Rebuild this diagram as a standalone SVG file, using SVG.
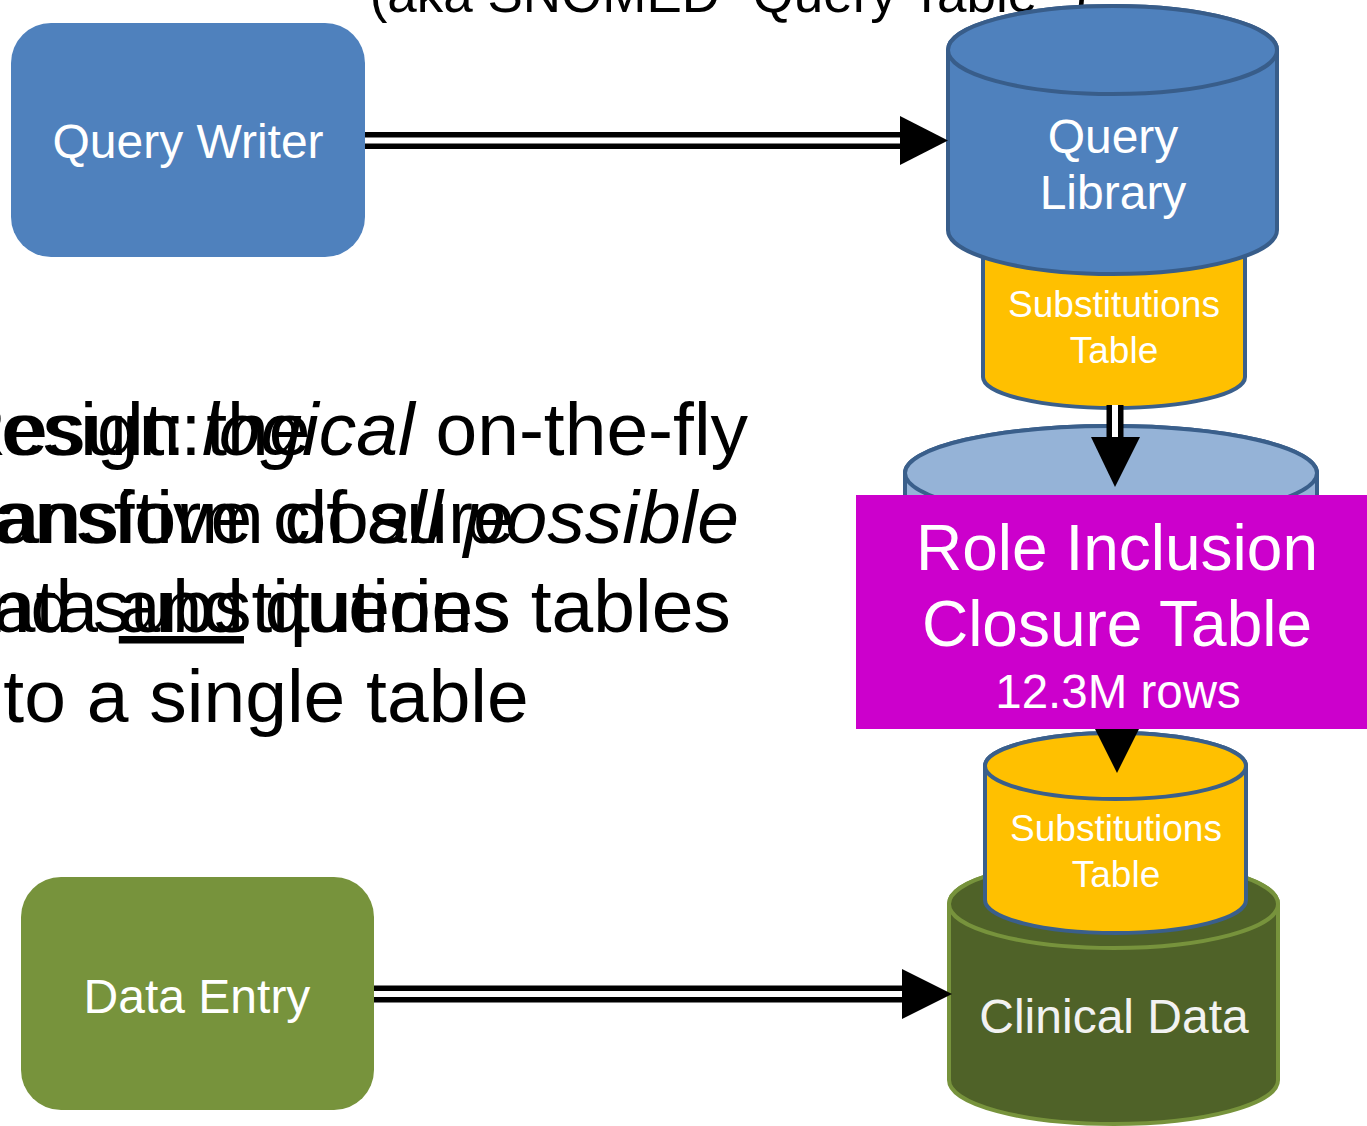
<svg xmlns="http://www.w3.org/2000/svg" width="1367" height="1126" viewBox="0 0 1367 1126">
  <style>
    .lbl { font-family: "Liberation Sans", Arial, sans-serif; fill: #ffffff; text-anchor: middle; }
    .body { font-family: "Liberation Sans", Arial, sans-serif; font-size: 75px; fill: #000000; }
    .it { font-style: italic; }
    .shaft { stroke: #000000; stroke-width: 17; fill: none; }
    .gap { stroke: #ffffff; stroke-width: 6; fill: none; }
    .head { fill: #000000; }
    .cylBlue { fill: #4F81BD; stroke: #385D8A; stroke-width: 4; }
    .cylLight { fill: #95B3D7; stroke: #3A5F8B; stroke-width: 4; }
    .cylYellow { fill: #FFC000; stroke: #3A5F8B; stroke-width: 4; }
    .cylGreen { fill: #4F6228; stroke: #77933C; stroke-width: 4; }
  </style>

  <rect width="1367" height="1126" fill="#ffffff"/>

  <!-- caption, mostly above the top edge -->
  <text x="728.5" y="12" font-family="Liberation Sans, Arial, sans-serif" font-size="53" text-anchor="middle" fill="#000000">(aka SNOMED “Query Table”.)</text>

  <!-- two overlapping text boxes, both left-aligned off the left edge -->
  <g id="body-text">
    <text class="body" x="-48" y="455">Result: the</text>
    <text class="body" x="-48" y="543">transitive closure</text>
    <text class="body" x="-48" y="632">data <tspan text-decoration="underline">and</tspan> queries</text>

    <text class="body" x="-53" y="455">Design: <tspan class="it" x="202">logical</tspan> on-the-fly</text>
    <text class="body" x="-53" y="543">transform of <tspan class="it">all possible</tspan></text>
    <text class="body" x="-53" y="632">and substitutions tables</text>
    <text class="body" x="-55" y="722">into a single table</text>
  </g>

  <!-- Clinical Data store -->
  <g id="clinical-data">
    <path class="cylGreen" d="M949,904 L949,1080 A164.5,44 0 0 0 1278,1080 L1278,904 A164.5,44 0 0 0 949,904 Z"/>
    <ellipse class="cylGreen" cx="1113.5" cy="904" rx="164.5" ry="44"/>
    <text class="lbl" x="1114" y="1033" font-size="48" style="fill:#F2F2F2">Clinical Data</text>
  </g>

  <!-- Substitutions table beside the clinical data -->
  <g id="subst-data">
    <path class="cylYellow" d="M985,766 L985,900 A130.5,33 0 0 0 1246,900 L1246,766 A130.5,33 0 0 0 985,766 Z"/>
    <ellipse class="cylYellow" cx="1115.5" cy="766" rx="130.5" ry="33"/>
    <text class="lbl" x="1116" y="841" font-size="37">Substitutions</text>
    <text class="lbl" x="1116" y="887" font-size="37">Table</text>
  </g>

  <!-- Role inclusion closure store (body hidden behind its label panel) -->
  <g id="role-closure-store">
    <path class="cylLight" d="M905,473 L905,680 A206,47 0 0 0 1317,680 L1317,473 A206,47 0 0 0 905,473 Z"/>
    <ellipse class="cylLight" cx="1111" cy="473" rx="206" ry="47"/>
  </g>

  <!-- Substitutions table under the query library -->
  <g id="subst-query">
    <path class="cylYellow" d="M983,240 L983,377 A131,31 0 0 0 1245,377 L1245,240 A131,31 0 0 0 983,240 Z"/>
    <text class="lbl" x="1114" y="317" font-size="37">Substitutions</text>
    <text class="lbl" x="1114" y="363" font-size="37">Table</text>
  </g>

  <!-- Query Library store -->
  <g id="query-library">
    <path class="cylBlue" d="M948,50 L948,230 A164.5,44 0 0 0 1277,230 L1277,50 A164.5,44 0 0 0 948,50 Z"/>
    <ellipse class="cylBlue" cx="1112.5" cy="50" rx="164.5" ry="44"/>
    <text class="lbl" x="1113" y="153" font-size="48">Query</text>
    <text class="lbl" x="1113" y="209" font-size="48">Library</text>
  </g>

  <!-- Query Writer -->
  <g id="query-writer">
    <rect x="11" y="23" width="354" height="234" rx="40" ry="40" fill="#4F81BD"/>
    <text class="lbl" x="188" y="158" font-size="48">Query Writer</text>
  </g>

  <!-- Data Entry -->
  <g id="data-entry">
    <rect x="21" y="877" width="353" height="233" rx="40" ry="40" fill="#77933C"/>
    <text class="lbl" x="197" y="1013" font-size="48">Data Entry</text>
  </g>

  <!-- connectors -->
  <g id="connectors">
    <!-- Query Writer to Query Library -->
    <line class="shaft" x1="365" y1="140.5" x2="901" y2="140.5"/>
    <line class="gap" x1="365" y1="140.5" x2="901" y2="140.5"/>
    <polygon class="head" points="900,116 948,140.5 900,165"/>
    <!-- Data Entry to Clinical Data -->
    <line class="shaft" x1="374" y1="994" x2="903" y2="994"/>
    <line class="gap" x1="374" y1="994" x2="903" y2="994"/>
    <polygon class="head" points="902,969 952,994 902,1019"/>
    <!-- Substitutions table to closure store -->
    <line class="shaft" x1="1115" y1="405" x2="1115" y2="438"/>
    <line class="gap" x1="1115" y1="405" x2="1115" y2="438"/>
    <polygon class="head" points="1091,437 1140,437 1115,487"/>
    <!-- closure store to lower substitutions table -->
    <line class="shaft" x1="1117" y1="690" x2="1117" y2="724"/>
    <line class="gap" x1="1117" y1="690" x2="1117" y2="724"/>
    <polygon class="head" points="1092,723 1142,723 1117,773"/>
  </g>

  <!-- Role Inclusion Closure Table label panel -->
  <g id="role-closure-label">
    <rect x="856" y="495" width="511" height="234" fill="#CC00CC"/>
    <text class="lbl" x="1117" y="570" font-size="64">Role Inclusion</text>
    <text class="lbl" x="1117" y="646" font-size="64">Closure Table</text>
    <text class="lbl" x="1118" y="708" font-size="47.5">12.3M rows</text>
  </g>
</svg>
